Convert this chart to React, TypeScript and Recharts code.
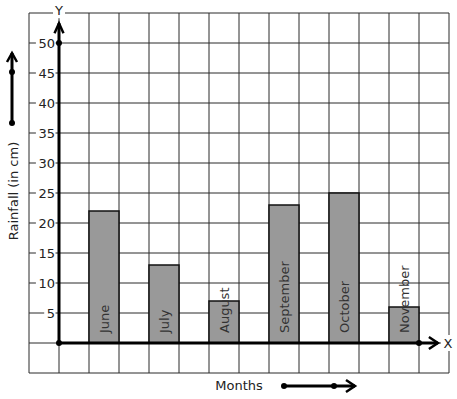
import React from 'react';
import {
  ComposedChart,
  Bar,
  XAxis,
  YAxis,
  CartesianGrid,
  ReferenceLine,
  ReferenceDot,
  LabelList,
} from 'recharts';

const months = ['June', 'July', 'August', 'September', 'October', 'November'];
const rainfall = [22, 13, 7, 23, 25, 6];
const yTicks = [-5, 0, 5, 10, 15, 20, 25, 30, 35, 40, 45, 50, 55];
const yLabelTicks = [5, 10, 15, 20, 25, 30, 35, 40, 45, 50];
const gridXTicks = [-1, 0, 1, 2, 3, 4, 5, 6, 7, 8, 9, 10, 11, 12, 13];
const yTitle = 'Rainfall (in cm)';
const xTitle = 'Months';

const FONT = '"DejaVu Sans", Verdana, sans-serif';

// 14 column slots: one empty column before the y axis, one gap column, then a bar every other column
const slotCount = gridXTicks.length - 1;
const data = Array.from({ length: slotCount }, (_, i) => {
  const k = (i - 2) / 2;
  const has = i >= 2 && i % 2 === 0 && k < months.length;
  return { slot: i, gx: i - 1, month: has ? months[k] : '', rain: has ? rainfall[k] : null };
});

const YTick = (props: any) => {
  const { x, y, payload } = props;
  const v = payload?.value;
  if (!yLabelTicks.includes(v)) return null;
  const s = String(v);
  const w = s.length * 8.3 + 2;
  const right = x + 26;
  return (
    <g>
      <rect x={right - w - 0.5} y={y - 7} width={w + 1} height={14} fill="#fff" />
      <text x={right} y={y} textAnchor="end" dominantBaseline="central" fontFamily={FONT} fontSize={13} fill="#222">
        {s}
      </text>
    </g>
  );
};

const MonthLabel = (props: any) => {
  const { x, y, width, height, value } = props;
  if (!value) return null;
  const cx = x + width / 2;
  const by = y + height - 10;
  return (
    <text
      x={0}
      y={0}
      transform={`translate(${cx},${by}) rotate(-90)`}
      textAnchor="start"
      dominantBaseline="central"
      fontFamily={FONT}
      fontSize={13}
      fill="#333"
    >
      {value}
    </text>
  );
};

const YAxisArrow = (props: any) => {
  const { x1, y1, x2, y2 } = props;
  const top = Math.min(y1, y2);
  const bottom = Math.max(y1, y2);
  return (
    <g>
      <line x1={x1} y1={bottom} x2={x2} y2={top} stroke="#000" strokeWidth={3} />
      <polyline points={`${x2 - 4.5},${top + 10} ${x2},${top} ${x2 + 4.5},${top + 10}`} fill="none" stroke="#000" strokeWidth={2.5} />
      <rect x={x2 - 6} y={top - 20} width={12} height={15} fill="#fff" />
      <text x={x2} y={top - 13} textAnchor="middle" dominantBaseline="central" fontFamily={FONT} fontSize={13} fill="#222">
        Y
      </text>
    </g>
  );
};

const XAxisArrow = (props: any) => {
  const { x1, y1, x2 } = props;
  const left = Math.min(x1, x2);
  const right = Math.max(x1, x2);
  return (
    <g>
      <line x1={left} y1={y1} x2={right} y2={y1} stroke="#000" strokeWidth={3} />
      <polyline points={`${right - 9},${y1 - 6} ${right},${y1} ${right - 9},${y1 + 6}`} fill="none" stroke="#000" strokeWidth={2.5} />
      <rect x={right + 3} y={y1 - 8} width={13} height={16} fill="#fff" />
      <text x={right + 10} y={y1} textAnchor="middle" dominantBaseline="central" fontFamily={FONT} fontSize={13} fill="#222">
        X
      </text>
    </g>
  );
};

const YTitle = (props: any) => {
  const vb = props.viewBox || { x: 0, y: 13, width: 29, height: 360 };
  const cx = vb.x + 13;
  const cy = vb.y + vb.height / 2 - 2;
  const ax = vb.x + 12;
  const aBottom = vb.y + 110;
  const aDot = vb.y + 59;
  const aTop = vb.y + 40;
  return (
    <g>
      <text
        x={0}
        y={0}
        transform={`translate(${cx},${cy}) rotate(-90)`}
        textAnchor="middle"
        dominantBaseline="central"
        fontFamily={FONT}
        fontSize={13}
        fill="#222"
      >
        {yTitle}
      </text>
      <line x1={ax} y1={aBottom} x2={ax} y2={aTop} stroke="#000" strokeWidth={3} />
      <polyline points={`${ax - 5},${aTop + 9} ${ax},${aTop} ${ax + 5},${aTop + 9}`} fill="none" stroke="#000" strokeWidth={2.5} />
      <circle cx={ax} cy={aBottom} r={3} fill="#000" />
      <circle cx={ax} cy={aDot} r={3} fill="#000" />
    </g>
  );
};

const XTitle = (props: any) => {
  const vb = props.viewBox || { x: 29, y: 373, width: 420, height: 26 };
  const cx = vb.x + vb.width / 2;
  const cy = vb.y + 12;
  const ay = vb.y + 13;
  const aLeft = vb.x + 255;
  const aDot = vb.x + 305;
  const aRight = vb.x + 326;
  return (
    <g>
      <text x={cx} y={cy} textAnchor="middle" dominantBaseline="central" fontFamily={FONT} fontSize={13} fill="#222">
        {xTitle}
      </text>
      <line x1={aLeft} y1={ay} x2={aRight} y2={ay} stroke="#000" strokeWidth={3} />
      <polyline points={`${aRight - 9},${ay - 6} ${aRight},${ay} ${aRight - 9},${ay + 6}`} fill="none" stroke="#000" strokeWidth={2.5} />
      <circle cx={aLeft} cy={ay} r={3} fill="#000" />
      <circle cx={aDot} cy={ay} r={3} fill="#000" />
    </g>
  );
};

export default function App() {
  return (
    <div style={{ position: 'absolute', left: 0, top: 0, width: 457, height: 399, background: '#fff' }}>
      <ComposedChart
        width={457}
        height={399}
        data={data}
        margin={{ top: 13, right: 8, bottom: 0, left: 0 }}
        barCategoryGap={0}
        barGap={0}
      >
        <XAxis
          xAxisId="cat"
          dataKey="slot"
          type="category"
          height={26}
          tick={false}
          tickLine={false}
          axisLine={false}
          label={{ content: (p: any) => <XTitle {...p} /> }}
        />
        <XAxis
          xAxisId="grid"
          dataKey="gx"
          type="number"
          domain={[-1, 13]}
          ticks={gridXTicks}
          interval={0}
          allowDataOverflow
          hide
        />
        <YAxis
          type="number"
          domain={[-5, 55]}
          ticks={yTicks}
          interval={0}
          width={29}
          tickSize={0}
          tickMargin={0}
          axisLine={false}
          tickLine={false}
          tick={<YTick />}
          label={{ content: (p: any) => <YTitle {...p} /> }}
        />
        <CartesianGrid xAxisId="grid" stroke="#2b2b2b" strokeWidth={1} />
        <Bar xAxisId="cat" dataKey="rain" fill="#999999" stroke="#111" strokeWidth={1.5} isAnimationActive={false}>
          <LabelList dataKey="month" content={<MonthLabel />} />
        </Bar>
        <ReferenceLine
          xAxisId="grid"
          segment={[{ x: 0, y: 0 }, { x: 0, y: 53.3 }]}
          shape={(p: any) => <YAxisArrow {...p} />}
        />
        <ReferenceLine
          xAxisId="grid"
          segment={[{ x: 0, y: 0 }, { x: 12.63, y: 0 }]}
          shape={(p: any) => <XAxisArrow {...p} />}
        />
        <ReferenceDot xAxisId="grid" x={0} y={0} r={3} fill="#000" stroke="none" />
        <ReferenceDot xAxisId="grid" x={0} y={50} r={3} fill="#000" stroke="none" />
        <ReferenceDot xAxisId="grid" x={12} y={0} r={3} fill="#000" stroke="none" />
      </ComposedChart>
    </div>
  );
}
